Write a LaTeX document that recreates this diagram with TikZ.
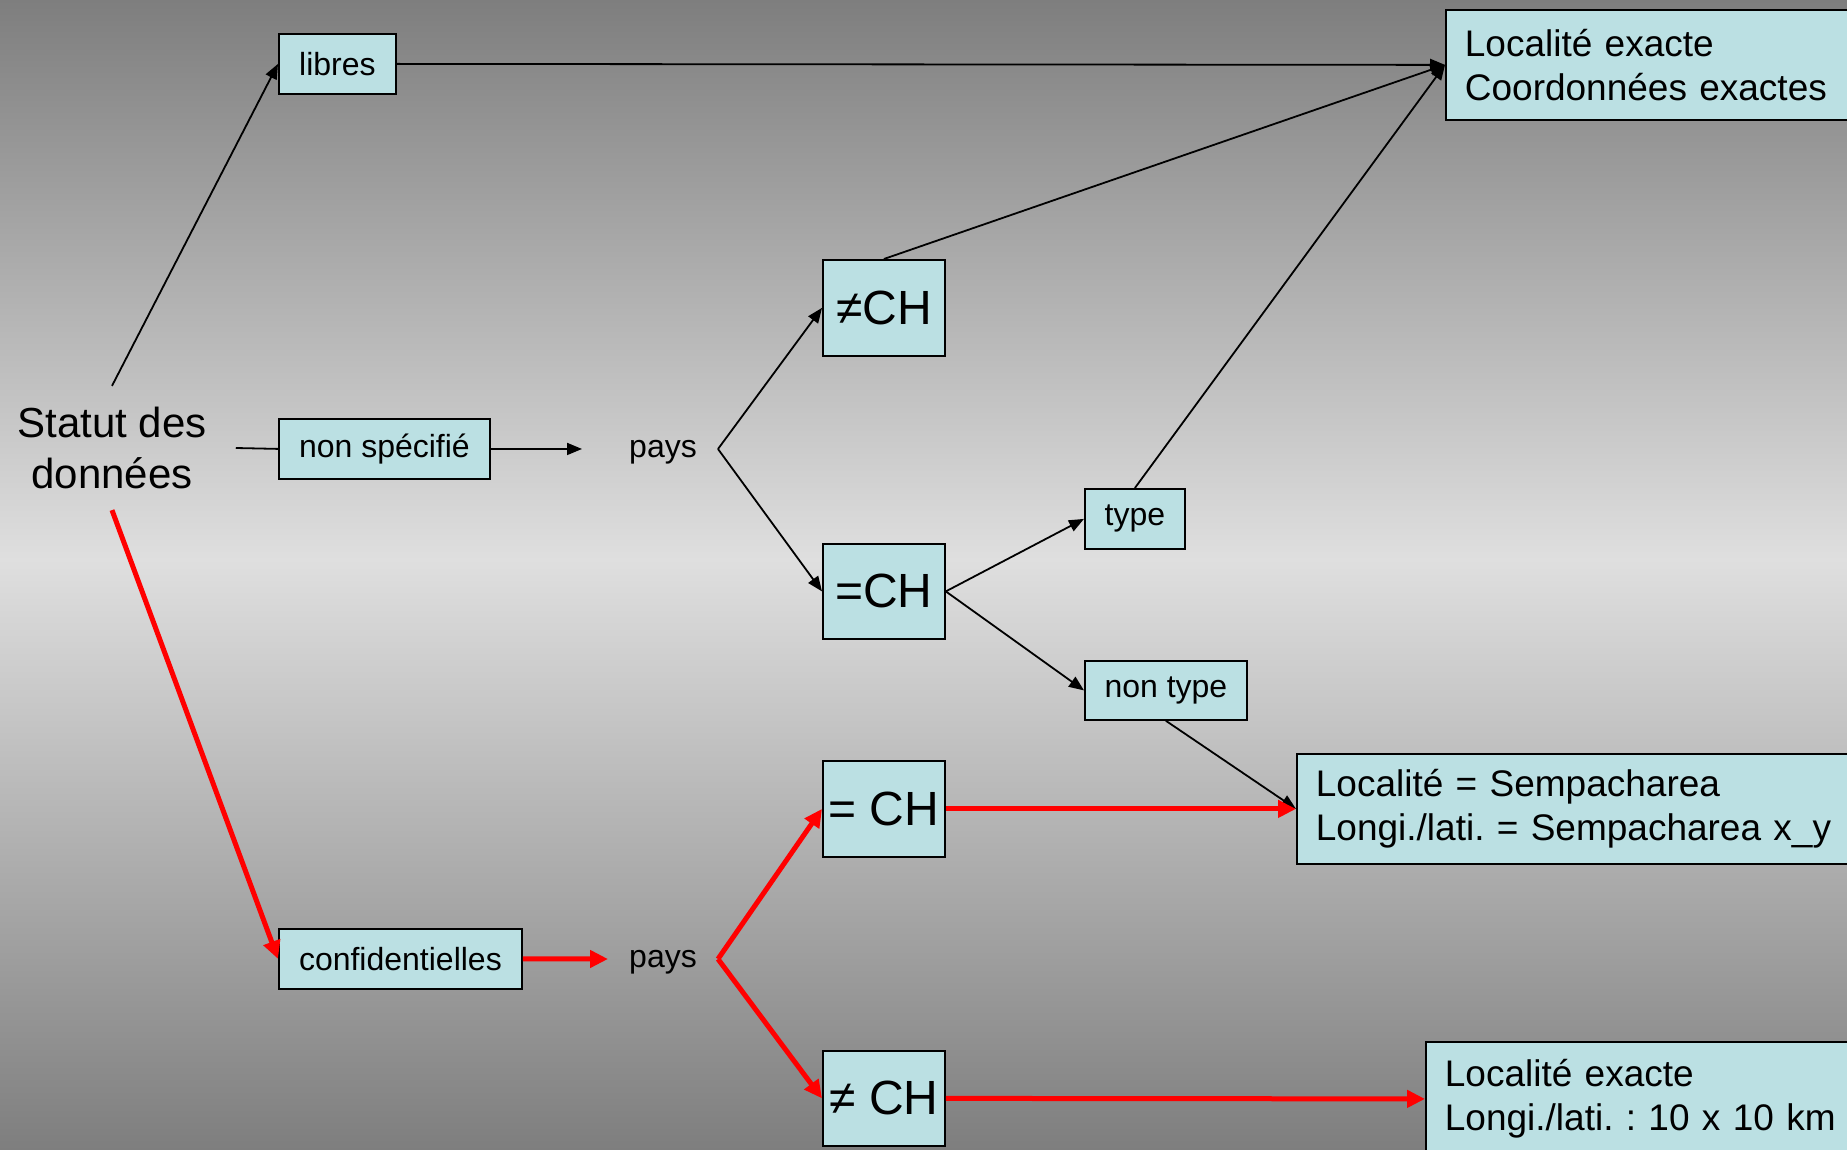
\documentclass[tikz,border=0pt]{standalone}
\usepackage{fontspec}
\setmainfont{Liberation Sans}
\usetikzlibrary{arrows.meta}
\definecolor{boxfill}{HTML}{BBE0E3}
\definecolor{bgdark}{HTML}{7E7E7E}
\definecolor{bglight}{HTML}{DFDFDF}
\definecolor{arrred}{HTML}{FF0000}
\frenchspacing
\begin{document}
\frenchspacing
\begin{tikzpicture}[x=1pt,y=-1pt,
  box/.style={draw=black, line width=1.8pt, fill=boxfill, inner sep=0pt, anchor=north west},
  smalltxt/.style={font=\fontsize{32}{38}\selectfont},
  chtxt/.style={font=\fontsize{48}{56}\selectfont},
  bigtxt/.style={font=\fontsize{37}{44}\selectfont\frenchspacing, align=left, inner xsep=19pt, inner ysep=0pt},
  plainline/.style={draw=black, line width=1.8pt},
  blk/.style={draw=black, line width=1.8pt, -{Triangle[length=15pt,width=12pt]}},
  redarr/.style={draw=arrred, line width=5pt, -{Triangle[length=18pt,width=17pt]}}
]
\useasboundingbox (0,0) rectangle (1847,1150);
\clip (0,0) rectangle (1847,1150);
\shade[top color=bgdark, bottom color=bglight] (0,0) rectangle (1847,560);
\shade[top color=bglight, bottom color=bgdark] (0,559) rectangle (1847,1150);

% nodes
\node[font=\fontsize{42}{51}\selectfont, align=center, inner xsep=29pt, inner ysep=21pt] (statut) at (112,448) {Statut des\\données};
\node[box, smalltxt, minimum width=117pt, minimum height=60pt] (libres) at (278,33) {libres};
\node[box, smalltxt, minimum width=211pt, minimum height=60pt] (nonspec) at (278,418) {non spécifié};
\node[box, smalltxt, minimum width=243pt, minimum height=60pt] (conf) at (278,928) {confidentielles};
\node[smalltxt, inner xsep=21pt, text depth=0pt] (pays1) at (663,449) {pays};
\node[smalltxt, inner xsep=21pt, text depth=0pt] (pays2) at (663,959) {pays};
\node[box, chtxt, minimum width=122pt, minimum height=96pt] (neCH) at (822,259) {≠CH};
\node[box, chtxt, minimum width=122pt, minimum height=95pt] (eqCH) at (822,543) {=CH};
\node[box, chtxt, minimum width=122pt, minimum height=96pt] (eqCHb) at (822,760) {= CH};
\node[box, chtxt, minimum width=122pt, minimum height=95pt] (neCHb) at (822,1050) {≠ CH};
\node[box, smalltxt, minimum width=100pt, minimum height=60pt] (type) at (1084,488) {type};
\node[box, smalltxt, minimum width=162pt, minimum height=59pt] (nontype) at (1084,660) {non type};
\node[box, bigtxt, minimum height=110pt, text width=382pt] (topbox) at (1445,9) {Localité exacte\\Coordonnées exactes};
\node[box, bigtxt, minimum height=110pt, text width=532pt] (semp) at (1296,753) {Localité = Sempacharea\\Longi./lati. = Sempacharea x\_y};
\node[box, bigtxt, minimum height=114pt, text width=420pt] (botbox) at (1425,1041) {Localité exacte\\Longi./lati. : 10 x 10 km};

% black connectors
\draw[blk] (statut.north) -- (libres.west);
\draw[blk] (libres.east) -- (topbox.west);
\draw[blk] (neCH.north) -- (topbox.west);
\draw[blk] (type.north) -- (topbox.west);
\draw[plainline] (statut.east) -- (nonspec.west);
\draw[blk, shorten >=26pt] (nonspec.east) -- (pays1.west);
\draw[blk] (pays1.east) -- (neCH.west);
\draw[blk] (pays1.east) -- (eqCH.west);
\draw[blk] (eqCH.east) -- (type.west);
\draw[blk] (eqCH.east) -- (nontype.west);
\draw[blk] (nontype.south) -- (semp.west);

% red connectors
\draw[redarr] (statut.south) -- (conf.west);
\draw[redarr] (conf.east) -- (pays2.west);
\draw[redarr] (pays2.east) -- (eqCHb.west);
\draw[redarr] (pays2.east) -- (neCHb.west);
\draw[redarr] (eqCHb.east) -- (semp.west);
\draw[redarr] (neCHb.east) -- (botbox.west);
\end{tikzpicture}
\end{document}
